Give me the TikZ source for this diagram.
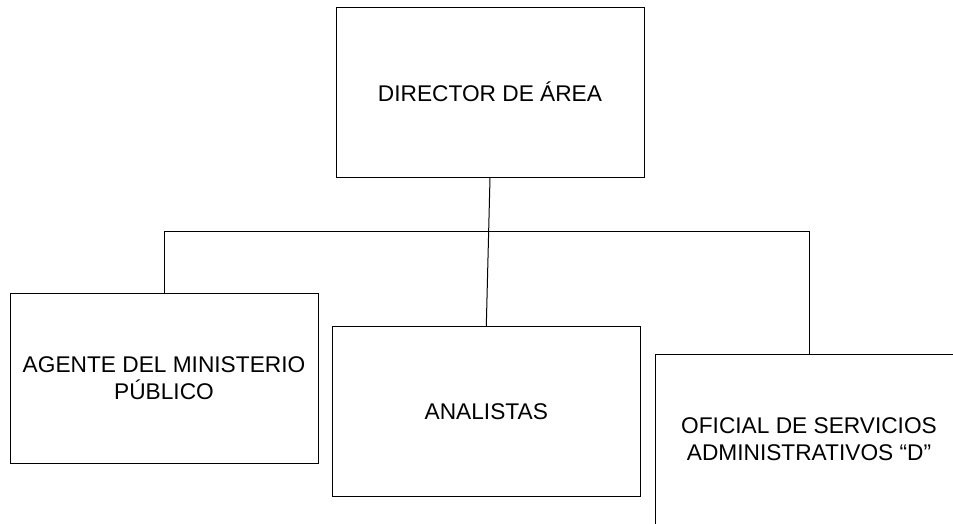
\documentclass[tikz,border=0pt]{standalone}
\usepackage{fontspec}
\setmainfont{Liberation Sans}
\begin{document}
\begin{tikzpicture}[x=1pt,y=-1pt,
  orgbox/.style={draw,line width=1pt,rectangle,minimum width=308pt,minimum height=170pt,
    inner sep=0pt,align=center,font=\fontsize{22.7}{27}\selectfont},
  link/.style={draw,line width=1pt}]
\useasboundingbox (0,0) rectangle (953,523);
\clip (0,0) rectangle (953,523);
\node[orgbox] (dir) at (490,92) {DIRECTOR DE ÁREA};
\node[orgbox] (age) at (164,378) {AGENTE DEL MINISTERIO\\PÚBLICO};
\node[orgbox] (ana) at (486.3,411.3) {ANALISTAS};
\node[orgbox] (ofi) at (809,439) {OFICIAL DE SERVICIOS\\ADMINISTRATIVOS “D”};
\coordinate (busl) at (164,231);
\coordinate (busr) at (809,231);
\draw[link] (dir.south) -- (ana.north);
\draw[link] (age.north) -- (busl) -- (busr) -- (ofi.north);
\end{tikzpicture}
\end{document}
